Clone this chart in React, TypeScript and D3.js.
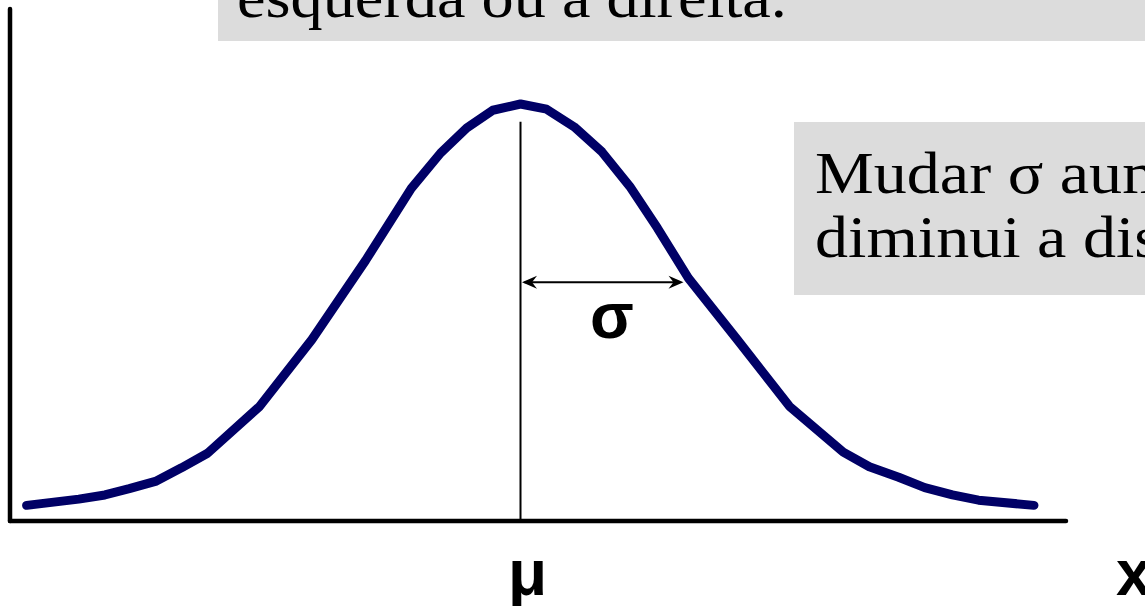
import React from "react";
import * as d3 from "d3";

// Normal curve vertices: position in units of σ from the mean, and curve height (density).
const curveX = [
  -3.03, -2.71, -2.55, -2.4, -2.24, -2.08, -1.92, -1.6, -1.28, -0.95, -0.67, -0.49, -0.33, -0.17,
  0,
  0.16, 0.33, 0.5, 0.67, 0.84, 1.03, 1.33, 1.65, 1.98, 2.14, 2.32, 2.48, 2.65, 2.81, 3.15,
];
const curveY = [
  0.015, 0.021, 0.025, 0.031, 0.038, 0.051, 0.065, 0.11, 0.174, 0.25, 0.319, 0.353, 0.377, 0.394,
  0.4,
  0.395, 0.378, 0.354, 0.321, 0.281, 0.233, 0.174, 0.11, 0.066, 0.052, 0.042, 0.032, 0.025, 0.02, 0.015,
];

const meanX = 0;
const sigmaX = 1;
const meanLineTop = 0.383;
const sigmaArrowY = 0.229;

const meanLabel = "μ";
const sigmaLabel = "σ";
const axisLabel = "x";
const topNote = "esquerda ou a direita.";
const sideNote = ["Mudar σ aumenta ou", "diminui a dispersão."];

const W = 1145;
const H = 606;

export default function App() {
  const x = d3.scaleLinear().domain([-3.2, 3.2]).range([520.5 - 3.2 * 163, 520.5 + 3.2 * 163]);
  const y = d3.scaleLinear().domain([0, 0.4]).range([521, 104]);

  const pts: [number, number][] = curveX.map((v, i) => [v, curveY[i]]);
  const line = d3
    .line<[number, number]>()
    .x((d) => x(d[0]))
    .y((d) => y(d[1]));

  const axisY = y(0);
  const axisLeft = 10;
  const axisRight = 1066;

  const ax0 = x(meanX);
  const ax1 = x(meanX + sigmaX);
  const ay = y(sigmaArrowY);

  // stealth-style arrowhead pointing in direction dir (+1 right, -1 left)
  const head = (tipX: number, tipY: number, dir: number) => {
    const len = 15;
    const hw = 6.5;
    const notch = 10;
    return `M${tipX},${tipY} L${tipX - dir * len},${tipY - hw} L${tipX - dir * notch},${tipY} L${tipX - dir * len},${tipY + hw} Z`;
  };

  const serif = "'Liberation Serif', 'Times New Roman', serif";
  const sans = "'Liberation Sans', Arial, sans-serif";

  return (
    <svg
      width={W}
      height={H}
      viewBox={`0 0 ${W} ${H}`}
      style={{ position: "absolute", left: 0, top: 0, background: "#fff" }}
    >
      {/* top note box */}
      <rect x={218} y={-10} width={W} height={51} fill="#dcdcdc" />
      <text transform="translate(237,17) scale(1.09,1)" fontFamily={serif} fontSize={59} fill="#000">
        {topNote}
      </text>

      {/* side note box */}
      <rect x={794} y={122} width={W} height={173} fill="#dcdcdc" />
      {sideNote.map((t, i) => (
        <text
          key={i}
          transform={`translate(815,${193 + i * 64}) scale(1.12,1)`}
          fontFamily={serif}
          fontSize={59}
          fill="#000"
        >
          {t}
        </text>
      ))}

      {/* axes */}
      <line x1={axisLeft} y1={9} x2={axisLeft} y2={axisY} stroke="#000" strokeWidth={4.5} strokeLinecap="round" />
      <line x1={axisLeft} y1={axisY} x2={axisRight} y2={axisY} stroke="#000" strokeWidth={4.5} strokeLinecap="round" />

      {/* mean line */}
      <line x1={ax0} y1={y(meanLineTop)} x2={ax0} y2={axisY} stroke="#000" strokeWidth={2} />

      {/* σ arrow */}
      <line x1={ax0 + 4} y1={ay} x2={ax1 - 4} y2={ay} stroke="#000" strokeWidth={2} />
      <path d={head(ax0 + 1.5, ay, -1)} fill="#000" />
      <path d={head(ax1, ay, 1)} fill="#000" />

      {/* curve */}
      <path
        d={line(pts) || ""}
        fill="none"
        stroke="#000066"
        strokeWidth={9}
        strokeLinecap="round"
        strokeLinejoin="round"
      />

      {/* labels */}
      <text x={(ax0 + ax1) / 2 + 10} y={338} textAnchor="middle" fontFamily={sans} fontWeight="bold" fontSize={64}>
        {sigmaLabel}
      </text>
      <text x={ax0 + 7} y={595} textAnchor="middle" fontFamily={sans} fontWeight="bold" fontSize={64}>
        {meanLabel}
      </text>
      <text x={1116} y={595} fontFamily={sans} fontWeight="bold" fontSize={64}>
        {axisLabel}
      </text>
    </svg>
  );
}
